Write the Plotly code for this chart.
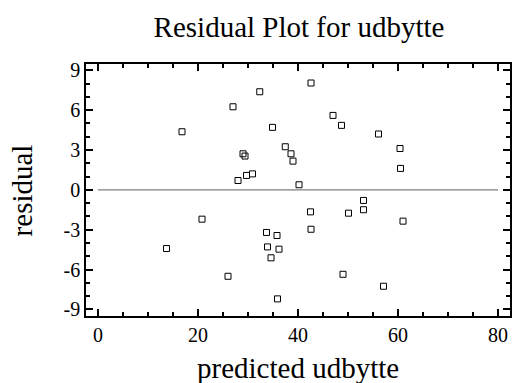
import plotly.graph_objects as go

predicted = [16.8, 27.0, 32.35, 34.9, 37.45, 38.6, 39.0, 29.0, 29.4, 29.7, 30.9, 28.0, 40.2,
             42.6, 47.0, 48.7, 56.1, 60.4, 60.5, 53.1, 53.1, 42.5, 50.1,
             20.8, 13.7, 33.7, 35.8, 33.9, 36.2, 34.6, 26.0, 35.9,
             42.6, 61.0, 49.0, 57.1]
residual = [4.37, 6.25, 7.38, 4.7, 3.24, 2.71, 2.16, 2.71, 2.54, 1.08, 1.2, 0.70, 0.38,
            8.04, 5.6, 4.85, 4.2, 3.11, 1.61, -0.8, -1.5, -1.66, -1.76,
            -2.21, -4.42, -3.21, -3.44, -4.3, -4.47, -5.12, -6.51, -8.21,
            -2.97, -2.36, -6.36, -7.26]

x_ticks = [0, 20, 40, 60, 80]
y_ticks = [-9, -6, -3, 0, 3, 6, 9]

SERIF = "Liberation Serif"

fig = go.Figure()
fig.add_trace(go.Scatter(
    x=predicted, y=residual, mode="markers",
    marker=dict(symbol="square-open", size=6, color="black", line=dict(width=1, color="black")),
    showlegend=False, hoverinfo="x+y"))

fig.add_shape(type="line", xref="x", yref="y", x0=x_ticks[0], x1=x_ticks[-1], y0=0, y1=0,
              line=dict(color="#7f7f7f", width=1.2), layer="below")

axis_common = dict(showgrid=False, zeroline=False, showline=True, linecolor="black", linewidth=1.5,
                   mirror="ticks", ticks="inside", ticklen=7, tickwidth=1.5, tickcolor="black",
                   tickfont=dict(family=SERIF, size=20, color="black"))

fig.update_xaxes(range=[-2.4, 82.4], tickvals=x_ticks, ticktext=[str(v) for v in x_ticks],
                 minor=dict(dtick=5, tick0=0, ticks="inside", ticklen=4, tickwidth=1.5, tickcolor="black"),
                 **axis_common)
fig.update_yaxes(range=[-9.5, 9.47], tickvals=y_ticks, ticktext=[str(v) for v in y_ticks],
                 minor=dict(dtick=1, tick0=0, ticks="inside", ticklen=4, tickwidth=1.5, tickcolor="black"),
                 **axis_common)

fig.update_layout(
    width=513, height=383,
    font=dict(family=SERIF, color="black"),
    margin=dict(l=86, r=1, t=64, b=67, pad=0),
    paper_bgcolor="white", plot_bgcolor="white",
    title=dict(text="Residual Plot for udbytte", x=(86 + 512) / 2 / 513, xanchor="center",
               y=1 - 27 / 383, yanchor="middle", yref="container",
               font=dict(family=SERIF, size=29, color="black")),
    annotations=[
        dict(text="predicted udbytte", xref="paper", yref="paper", x=0.5, y=-0.135,
             xanchor="center", yanchor="top", showarrow=False,
             font=dict(family=SERIF, size=29, color="black")),
        dict(text="residual", xref="paper", yref="paper", x=-0.15, y=0.5,
             xanchor="center", yanchor="middle", textangle=-90, showarrow=False,
             font=dict(family=SERIF, size=29, color="black")),
    ],
)

fig.write_html("out.html")
